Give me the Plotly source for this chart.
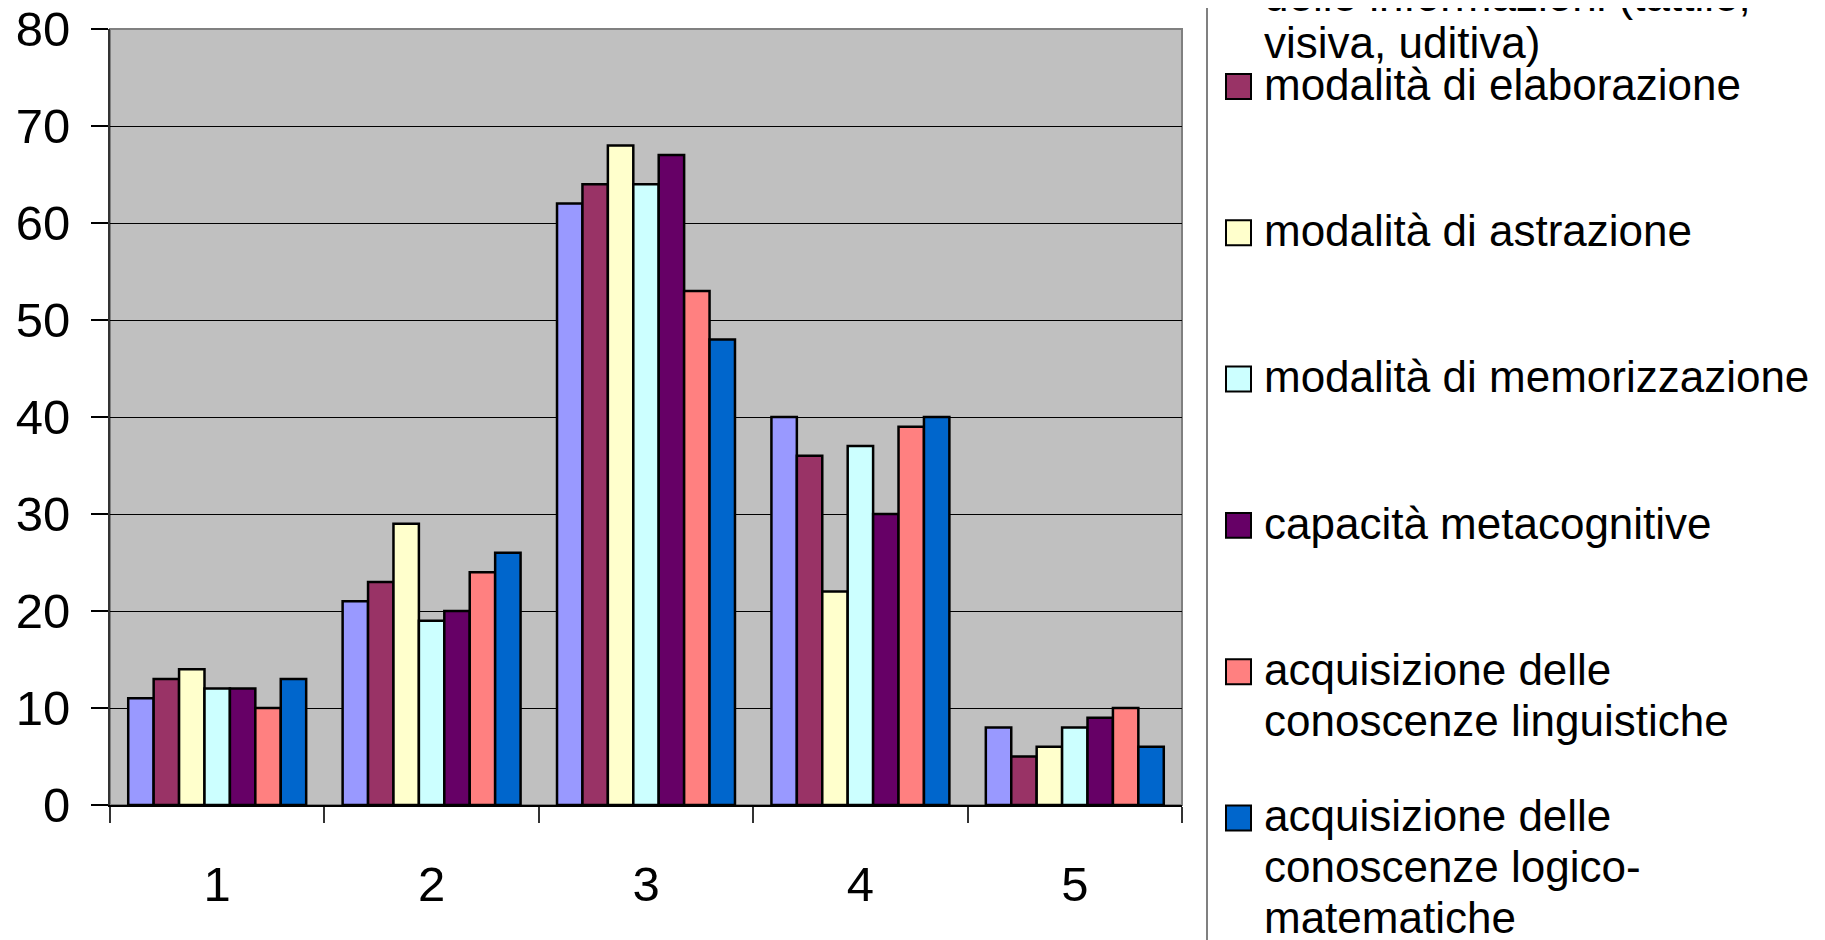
import plotly.graph_objects as go

# ---------------- data ----------------
categories = ["1", "2", "3", "4", "5"]

series_names = [
    "modalità di ricezione delle informazioni (tattile, visiva, uditiva)",
    "modalità di elaborazione",
    "modalità di astrazione",
    "modalità di memorizzazione",
    "capacità metacognitive",
    "acquisizione delle conoscenze linguistiche",
    "acquisizione delle conoscenze logico-matematiche",
]

legend_lines = [
    ["modalità di ricezione", "delle informazioni (tattile,", "visiva, uditiva)"],
    ["modalità di elaborazione"],
    ["modalità di astrazione"],
    ["modalità di memorizzazione"],
    ["capacità metacognitive"],
    ["acquisizione delle", "conoscenze linguistiche"],
    ["acquisizione delle", "conoscenze logico-", "matematiche"],
]

colors = ["#9999FF", "#993366", "#FFFFCC", "#CCFFFF", "#660066", "#FF8080", "#0066CC"]

ricezione = [11, 21, 62, 40, 8]
elaborazione = [13, 23, 64, 36, 5]
astrazione = [14, 29, 68, 22, 6]
memorizzazione = [12, 19, 64, 37, 8]
metacognitive = [12, 20, 67, 30, 9]
linguistiche = [10, 24, 53, 39, 10]
logico_matematiche = [13, 26, 48, 40, 6]

series_values = [ricezione, elaborazione, astrazione, memorizzazione,
                 metacognitive, linguistiche, logico_matematiche]

y_ticks = [0, 10, 20, 30, 40, 50, 60, 70, 80]

# ---------------- geometry ----------------
W, H = 1825, 940
OFF = 8  # page body margin in the browser
PL, PR, PT, PB = 110 - OFF, 1182 - OFF, 28.5 - OFF, 805.5 - OFF  # plot area (figure px)
FONT = "Liberation Sans, Arial, Helvetica, sans-serif"


def px(X):
    """screen x -> paper x"""
    return (X - OFF - PL) / (PR - PL)


def py(Y):
    """screen y -> paper y"""
    return (PB - (Y - OFF)) / (PB - PT)


fig = go.Figure()
for name, vals, col in zip(series_names, series_values, colors):
    fig.add_trace(go.Bar(
        x=categories, y=vals, name=name,
        marker=dict(color=col, line=dict(color="#000000", width=2.5)),
        showlegend=False,
    ))

shapes = []
annotations = []

# plot-area border (grey)
shapes.append(dict(type="rect", xref="paper", yref="paper", x0=0, x1=1, y0=0, y1=1,
                   line=dict(color="#808080", width=2), fillcolor="rgba(0,0,0,0)",
                   layer="below"))

# legend box (extends beyond the canvas)
shapes.append(dict(type="rect", xref="paper", yref="paper",
                   x0=px(1207), x1=px(1818), y0=py(960), y1=py(-20),
                   line=dict(color="#808080", width=2), fillcolor="#FFFFFF",
                   layer="below"))

slot = 146.5
first_center = 86 - slot
fs_leg = 44
for i, (lines, col) in enumerate(zip(legend_lines, colors)):
    cy = first_center + i * slot
    line_gap = 51
    if i == 0:
        line_gap = 47
        cy += 11
    shapes.append(dict(type="rect", xref="paper", yref="paper",
                       x0=px(1226), x1=px(1251), y0=py(cy + 12.5), y1=py(cy - 12.5),
                       line=dict(color="#000000", width=2), fillcolor=col))
    for k, txt in enumerate(lines):
        baseline = cy + 13 + k * line_gap
        center = baseline - 0.3465 * fs_leg
        annotations.append(dict(xref="paper", yref="paper", x=px(1262), y=py(center),
                                xanchor="left", yanchor="middle", text=txt,
                                showarrow=False,
                                font=dict(family=FONT, size=fs_leg, color="#000000")))

fig.update_layout(
    width=W, height=H,
    margin=dict(l=PL, r=W - PR, t=PT, b=H - PB, autoexpand=False),
    paper_bgcolor="#FFFFFF",
    plot_bgcolor="#C0C0C0",
    barmode="group", bargap=0.17, bargroupgap=0,
    font=dict(family=FONT, color="#000000"),
    shapes=shapes,
    annotations=annotations,
    xaxis=dict(
        type="category", showgrid=False, zeroline=False,
        showline=True, linecolor="#000000", linewidth=2,
        ticks="outside", tickson="boundaries", ticklen=16, tickwidth=1.5,
        tickcolor="#333333", ticklabelstandoff=35,
        tickfont=dict(family=FONT, size=49, color="#000000"),
    ),
    yaxis=dict(
        range=[0, 80], tickvals=y_ticks, showgrid=True, gridcolor="#000000", gridwidth=1,
        zeroline=False, showline=True, linecolor="#333333", linewidth=2,
        ticks="outside", ticklen=17, tickwidth=1.5, tickcolor="#000000",
        ticklabelstandoff=11, ticklabeloverflow="allow",
        tickfont=dict(family=FONT, size=49, color="#000000"),
    ),
)

fig.write_html("out.html")
